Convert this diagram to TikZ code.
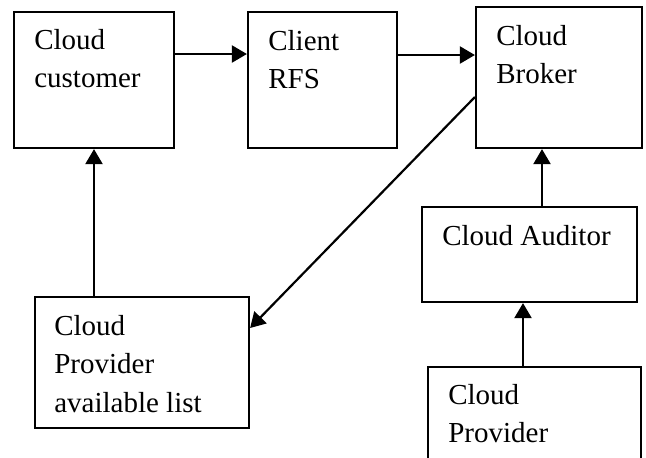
\documentclass[tikz,border=0pt]{standalone}
\usepackage{fontspec}
\setmainfont{Liberation Serif}
\usetikzlibrary{arrows.meta,positioning}
\tikzset{
  box/.style = {draw, line width=1.1pt, inner sep=0pt},
  boxtext/.style = {anchor=north west, inner sep=0pt, align=left,
    font=\fontsize{14.5}{19.2}\selectfont},
  flow/.style = {->, line width=1.1pt}
}
\tikzset{>={Triangle[length=7.5pt,width=8.5pt]}}

\begin{document}
\begin{tikzpicture}[x=0.5pt,y=-0.5pt]
  \useasboundingbox (0,0) rectangle (646,457);
  \clip (0,0) rectangle (646,457);
  % boxes
  \node[box,minimum width=80pt,minimum height=68pt] (customer) at (94,80) {};
  \node[box,minimum width=74.5pt,minimum height=68pt] (rfs) at (322.5,80) {};
  \node[box,minimum width=83pt,minimum height=70.5pt] (broker) at (559,77.5) {};
  \node[box,minimum width=107.5pt,minimum height=47.5pt] (auditor) at (529.5,254.5) {};
  \node[box,minimum width=107pt,minimum height=65.5pt] (avail) at (142,362.5) {};
  \node[box,minimum width=106.5pt,minimum height=70pt] (provider) at (534.5,437) {};
  % texts
  \node[boxtext] (customertext) at ([xshift=10.5pt,yshift=-9pt]customer.north west) {Cloud\\customer};
  \node[boxtext] (rfstext) at ([xshift=10.5pt,yshift=-9.5pt]rfs.north west) {Client\\RFS};
  \node[boxtext] (brokertext) at ([xshift=10.5pt,yshift=-9.5pt]broker.north west) {Cloud\\Broker};
  \node[boxtext] (auditortext) at ([xshift=10.5pt,yshift=-9.5pt]auditor.north west) {Cloud Auditor};
  \node[boxtext] (availtext) at ([xshift=10pt,yshift=-9.5pt]avail.north west) {Cloud\\Provider\\available list};
  \node[boxtext] (providertext) at ([xshift=10.5pt,yshift=-9pt]provider.north west) {Cloud\\Provider};
  % arrows
  \draw[flow] ([yshift=13pt]customer.east) -- ([yshift=13pt]customer.east -| rfs.west);
  \draw[flow] ([yshift=12.5pt]rfs.east) -- ([yshift=12.5pt]rfs.east -| broker.west);
  \draw[flow] ([yshift=-9.75pt]broker.west) -- ([yshift=17.25pt]avail.east);
  \draw[flow] (avail.north -| customer.south) -- (customer.south);
  \draw[flow] ([xshift=6.25pt]auditor.north) -- ([xshift=6.25pt]auditor.north |- broker.south);
  \draw[flow] ([xshift=-5.75pt]provider.north) -- ([xshift=-5.75pt]provider.north |- auditor.south);
\end{tikzpicture}
\end{document}
